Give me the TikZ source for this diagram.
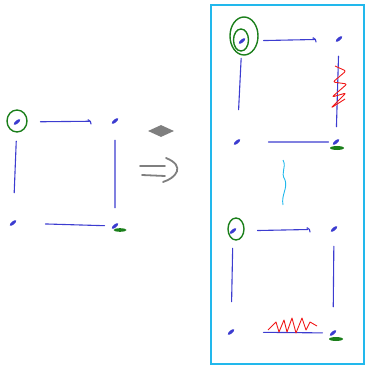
\documentclass[tikz,border=0pt]{standalone}
\usetikzlibrary{shapes.geometric}
\definecolor{InkBlue}{HTML}{3C3CD0}
\definecolor{InkGreen}{HTML}{1B7F1B}
\definecolor{InkRed}{HTML}{F01818}
\definecolor{FrameCyan}{HTML}{22B8EC}
\definecolor{InkGray}{HTML}{7F7F7F}

\begin{document}
\begin{tikzpicture}[
    x=1pt, y=-1pt,
    vtx/.style={
      ellipse,
      fill=InkBlue,
      inner sep=0pt,
      minimum width=8pt,
      minimum height=3.2pt,
      rotate=40
    },
    edge/.style={draw=InkBlue, line width=1.1pt, line cap=round},
    hook/.style={edge, rounded corners=1.5pt},
    ring/.style={draw=InkGreen, line width=1.4pt},
    tick/.style={fill=InkGreen},
    scribble/.style={draw=InkRed, line width=0.9pt, line join=round},
    hint/.style={draw=InkGray, line width=1.8pt, line cap=round}
  ]
    \useasboundingbox (0,0) rectangle (366,366);

    % before
    \node[vtx] (a1) at (17,122) {};
    \node[vtx] (b1) at (115,121) {};
    \node[vtx] (c1) at (13,223) {};
    \node[vtx] (d1) at (115,226) {};
    \draw[ring] (17,121) ellipse (10 and 11);
    \fill[tick] (120,230) ellipse (6.5 and 1.8);

    \draw[edge, shorten <=21pt, shorten >=23pt] (a1) -- (b1);
    \draw[hook] ([shift={(-27,-1)}]b1.center) -- ([shift={(-25,-1)}]b1.center) -- ++(1,4);
    \draw[edge, shorten <=17pt, shorten >=28pt] (a1) -- (c1);
    \draw[edge, shorten <=17pt, shorten >=16pt] (b1) -- (d1);
    \draw[edge, shorten <=30pt, shorten >=8pt] (c1) -- (d1);

    % transform hint
    \node[diamond, fill=InkGray, aspect=2.2, minimum width=26pt, minimum height=12pt, inner sep=0pt] (gem) at (161,131) {};
    \draw[hint] (140,166) -- (165,166);
    \draw[hint] (142,175) -- (165,176);
    \draw[hint] (166,158) .. controls (186,166) and (176,178) .. (163,182);

    % after
    \draw[FrameCyan, line width=1.8pt] (211,5) rectangle (364,364);

    \node[vtx] (a2) at (242,41) {};
    \node[vtx] (b2) at (339,39) {};
    \node[vtx] (c2) at (237,142) {};
    \node[vtx] (d2) at (336,142) {};
    \draw[ring] (244,36) ellipse (14 and 19);
    \draw[ring] (241,40) ellipse (7.5 and 11);
    \fill[tick] (337,148) ellipse (7 and 2);

    \draw[edge, shorten <=19pt, shorten >=22pt] (a2) -- (b2);
    \draw[hook] ([shift={(-26,-1)}]b2.center) -- ([shift={(-24,-1)}]b2.center) -- ++(1,4);
    \draw[edge, shorten <=15pt, shorten >=30pt] (a2) -- (c2);
    \draw[edge, shorten <=15pt, shorten >=13pt] (b2) -- (d2);
    \draw[edge, shorten <=29pt, shorten >=5pt] (c2) -- (d2);
    \draw[scribble, rounded corners=2pt] (335,66) -- (346,71) -- (333,82) -- (347,84) -- (332,97) -- (346,93) -- (331,108) -- (345,99);

    \draw[FrameCyan, line width=0.9pt] (283,160) .. controls (287,168) and (280,172) .. (285,180) .. controls (288,188) and (281,195) .. (283,205);

    \node[vtx] (a3) at (233,231) {};
    \node[vtx] (b3) at (334,229) {};
    \node[vtx] (c3) at (231,332) {};
    \node[vtx] (d3) at (333,333) {};
    \draw[ring] (236,229) ellipse (8 and 11);
    \fill[tick] (336,339) ellipse (7 and 2);

    \draw[edge, shorten <=22pt, shorten >=24pt] (a3) -- (b3);
    \draw[hook] ([shift={(-27,-1)}]b3.center) -- ([shift={(-25,-1)}]b3.center) -- ++(1,4);
    \draw[edge, shorten <=15pt, shorten >=28pt] (a3) -- (c3);
    \draw[edge, shorten <=15pt, shorten >=24pt] (b3) -- (d3);
    \draw[edge, shorten <=30pt, shorten >=8pt] (c3) -- (d3);
    \draw[scribble] (268,330) -- (276,322) -- (279,332) -- (284,320) -- (287,332) -- (292,318) -- (296,333) -- (302,318) -- (306,330) -- (310,322) -- (317,326);
  \end{tikzpicture}
\end{document}
